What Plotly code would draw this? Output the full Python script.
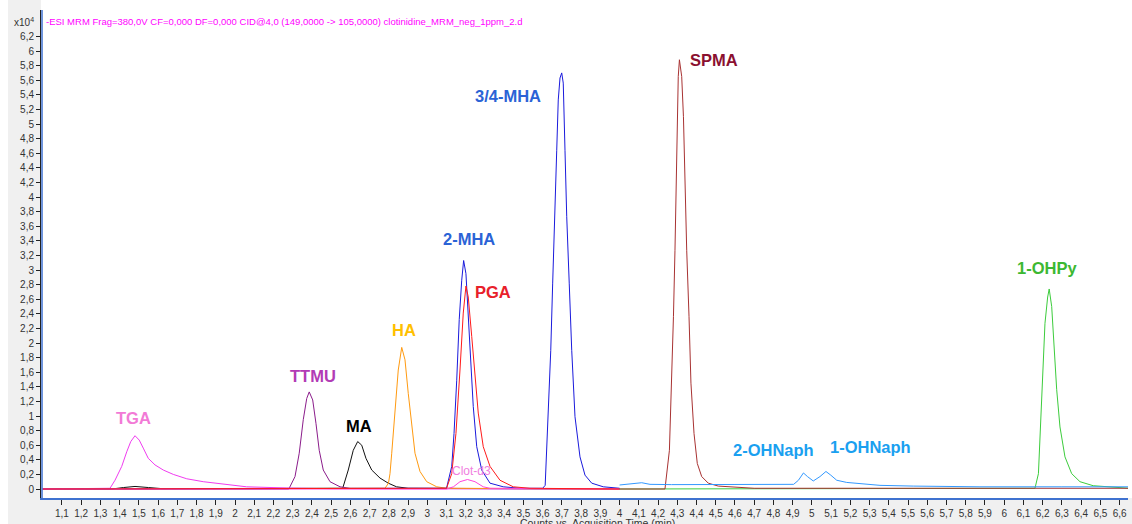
import plotly.graph_objects as go

# ---- chromatogram data (time in min, intensity in counts x10^4) ----
tga_t = [1.00, 1.34, 1.35, 1.376, 1.411, 1.437, 1.458, 1.48, 1.502, 1.523, 1.549, 1.584,
         1.627, 1.679, 1.749, 1.835, 1.939, 2.06, 2.27, 2.5, 4.0]
tga_y = [0, 0, 0.01, 0.12, 0.31, 0.51, 0.65, 0.73, 0.67, 0.56, 0.42, 0.33,
         0.26, 0.20, 0.14, 0.10, 0.064, 0.03, 0.014, 0.005, 0]

ttmu_t = [1.0, 2.28, 2.312, 2.334, 2.355, 2.373, 2.386, 2.404, 2.421, 2.438, 2.459,
          2.494, 2.546, 2.598, 4.0]
ttmu_y = [0, 0, 0.17, 0.49, 0.95, 1.24, 1.33, 1.22, 0.90, 0.53, 0.26,
          0.10, 0.03, 0.01, 0]

ma_t = [1.0, 1.36, 1.42, 1.48, 1.55, 1.62, 2.56, 2.589, 2.615, 2.638, 2.659, 2.681,
        2.711, 2.754, 2.797, 2.84, 2.9, 4.0]
ma_y = [0, 0, 0.02, 0.035, 0.02, 0.005, 0.01, 0.26, 0.53, 0.65, 0.60, 0.42,
        0.26, 0.15, 0.08, 0.03, 0.01, 0]

ha_t = [1.0, 2.78, 2.798, 2.806, 2.815, 2.832, 2.849, 2.867, 2.884, 2.901, 2.919, 2.936,
        2.962, 2.997, 3.049, 3.10, 4.0]
ha_y = [0, 0.01, 0.08, 0.21, 0.49, 1.13, 1.63, 1.94, 1.77, 1.31, 0.85, 0.49,
        0.24, 0.10, 0.03, 0.01, 0]

mha_t = [1.0, 3.10, 3.127, 3.139, 3.153, 3.166, 3.179, 3.189, 3.201, 3.213, 3.226, 3.239,
         3.257, 3.283, 3.326, 3.395, 3.482, 3.60, 3.613, 3.617, 3.629, 3.642, 3.652, 3.664,
         3.673, 3.681, 3.69, 3.699, 3.707, 3.716, 3.725, 3.738, 3.751, 3.768, 3.794, 3.82,
         3.855, 3.915, 3.985, 4.0]
mha_y = [0, 0.01, 0.31, 0.76, 1.49, 2.32, 2.86, 3.13, 2.95, 2.41, 1.77, 1.13,
         0.58, 0.26, 0.08, 0.03, 0.01, 0.01, 0.05, 0.31, 0.99, 1.90, 2.82, 3.73,
         4.64, 5.33, 5.63, 5.70, 5.56, 4.64, 3.73, 2.82, 1.90, 0.99, 0.44, 0.19,
         0.08, 0.03, 0.01, 0.01]

pga_t = [1.0, 3.10, 3.127, 3.149, 3.17, 3.187, 3.201, 3.213, 3.231, 3.248, 3.265, 3.291,
         3.326, 3.378, 3.447, 3.534, 4.0]
pga_y = [0, 0.01, 0.21, 0.76, 1.63, 2.41, 2.78, 2.63, 2.09, 1.54, 1.04, 0.58,
         0.31, 0.12, 0.03, 0.01, 0]

clot_t = [1.0, 3.10, 3.136, 3.17, 3.209, 3.248, 3.291, 3.326, 4.0]
clot_y = [0, 0, 0.03, 0.10, 0.13, 0.10, 0.03, 0.01, 0]

spma_t = [4.0, 4.236, 4.259, 4.271, 4.28, 4.288, 4.294, 4.299, 4.305, 4.311, 4.323, 4.332,
          4.34, 4.349, 4.361, 4.371, 4.387, 4.404, 4.427, 4.461, 4.513, 4.609, 4.7, 6.65]
spma_y = [0, 0, 0.53, 1.45, 2.36, 3.27, 4.19, 5.10, 5.65, 5.88, 5.65, 5.10,
          4.19, 3.27, 2.36, 1.45, 0.76, 0.35, 0.17, 0.08, 0.04, 0.02, 0.01, 0.01]

naph_t = [4.0, 4.05, 4.115, 4.158, 4.27, 4.6, 4.905, 4.93, 4.956, 4.977, 5.007, 5.042,
          5.073, 5.098, 5.129, 5.181, 5.25, 5.354, 5.527, 5.874, 6.3, 6.65]
naph_y = [0.055, 0.065, 0.086, 0.064, 0.06, 0.062, 0.064, 0.12, 0.22, 0.17, 0.11, 0.17,
          0.24, 0.19, 0.12, 0.09, 0.07, 0.05, 0.04, 0.03, 0.03, 0.03]

ohpy_t = [4.0, 6.16, 6.178, 6.19, 6.2, 6.212, 6.226, 6.234, 6.247, 6.259, 6.273, 6.29,
          6.316, 6.351, 6.394, 6.463, 6.567, 6.65]
ohpy_y = [0, 0.01, 0.21, 0.90, 1.58, 2.27, 2.63, 2.74, 2.50, 1.95, 1.36, 0.85,
          0.44, 0.21, 0.10, 0.045, 0.02, 0.01]

# peak labels: text, time, height
label_text = ["TGA", "TTMU", "MA", "HA", "2-MHA", "PGA", "Clot-d3", "3/4-MHA", "SPMA",
              "2-OHNaph", "1-OHNaph", "1-OHPy"]
label_t = [1.474, 2.406, 2.645, 2.879, 3.217, 3.342, 3.232, 3.42, 4.49, 4.80, 5.307, 6.222]
label_y = [0.97, 1.55, 0.86, 2.18, 3.42, 2.70, 0.25, 5.38, 5.88, 0.53, 0.58, 3.03]

x_ticks = [round(1.1 + 0.1 * i, 1) for i in range(56)]
y_ticks = [round(0.2 * i, 1) for i in range(32)]

HEADER = ("-ESI MRM Frag=380,0V CF=0,000 DF=0,000 CID@4,0 (149,0000 -> 105,0000) "
          "clotinidine_MRM_neg_1ppm_2.d")

W, H = 1132, 524
L, R, T, B = 41, 4, 10, 26
PW, PH = W - L - R, H - T - B


def px(xp):
    return (xp - L) / PW


def py(yp):
    return (H - B - yp) / PH


def fmt(v):
    s = f"{v:.1f}"
    if s.endswith(".0"):
        s = s[:-2]
    return s.replace(".", ",")


series = [
    ("MA", ma_t, ma_y, "#111111"),
    ("TTMU", ttmu_t, ttmu_y, "#8b1c8b"),
    ("TGA", tga_t, tga_y, "#f03cf0"),
    ("HA", ha_t, ha_y, "#ff9a10"),
    ("MHA", mha_t, mha_y, "#1a1adc"),
    ("Clot-d3", clot_t, clot_y, "#ff44dd"),
    ("PGA", pga_t, pga_y, "#ff1a1a"),
    ("1-OHPy", ohpy_t, ohpy_y, "#3ccc3c"),
    ("SPMA", spma_t, spma_y, "#a83232"),
    ("OHNaph", naph_t, naph_y, "#3399ff"),
]

fig = go.Figure()
for name, t, y, c in series:
    fig.add_trace(go.Scatter(x=t, y=y, mode="lines", name=name,
                             line=dict(color=c, width=1),
                             showlegend=False, hoverinfo="skip"))

label_colors = ["#f27ad6", "#b23bb5", "#000000", "#ffc000", "#2b63d6", "#e8202a",
                "#f07ee0", "#2b63d6", "#8b1030", "#1aa0f0", "#1aa0f0", "#3cb832"]
annotations = []
for txt, t, y, c in zip(label_text, label_t, label_y, label_colors):
    small = txt == "Clot-d3"
    annotations.append(dict(
        x=t, y=y, xref="x", yref="y", showarrow=False,
        text=txt if small else f"<b>{txt}</b>",
        font=dict(family="Liberation Sans, Arial", size=12 if small else 16.5, color=c),
        xanchor="center", yanchor="middle"))

annotations.append(dict(
    x=px(44), y=py(21.5), xref="paper", yref="paper", showarrow=False,
    text=HEADER, xanchor="left", yanchor="middle",
    font=dict(family="Liberation Sans, Arial", size=9.5, color="#ff00ff")))
annotations.append(dict(
    x=px(36), y=py(21.5), xref="paper", yref="paper", showarrow=False,
    text="x10<sup>4</sup>", xanchor="right", yanchor="middle",
    font=dict(family="Liberation Sans, Arial", size=10, color="#333333")))
annotations.append(dict(
    x=px(597), y=py(523), xref="paper", yref="paper", showarrow=False,
    text="Counts vs. Acquisition Time (min)", xanchor="center", yanchor="middle",
    font=dict(family="Liberation Sans, Arial", size=10.5, color="#333333")))

shapes = [
    # grey panels round the axes
    dict(type="rect", xref="paper", yref="paper", x0=px(8), x1=px(41), y0=py(H), y1=py(0),
         fillcolor="#f0f0f0", line=dict(width=0), layer="below"),
    dict(type="rect", xref="paper", yref="paper", x0=px(8), x1=px(W), y0=py(H), y1=py(H - B),
         fillcolor="#f0f0f0", line=dict(width=0), layer="below"),
    # blue frame edge inside the y axis
    dict(type="line", xref="paper", yref="paper", x0=px(42), x1=px(42), y0=0, y1=1,
         line=dict(color="#3f72d0", width=1.5)),
]

fig.update_layout(
    width=W, height=H,
    margin=dict(l=L, r=R, t=T, b=B, pad=0),
    paper_bgcolor="#ffffff", plot_bgcolor="#ffffff",
    annotations=annotations, shapes=shapes,
    xaxis=dict(range=[2 + (L - 235) / 192.3, 2 + (W - R - 235) / 192.3],
               tickvals=x_ticks, ticktext=[fmt(v) for v in x_ticks],
               showgrid=False, zeroline=False, automargin=False,
               ticks="outside", ticklen=5, tickcolor="#222222", tickwidth=1,
               showline=True, linecolor="#3f72d0", linewidth=2,
               tickfont=dict(family="Liberation Sans, Arial", size=10, color="#333333")),
    yaxis=dict(range=[(489 - (H - B)) / 73.0, (489 - T) / 73.0],
               tickvals=y_ticks, ticktext=[fmt(v) for v in y_ticks],
               showgrid=False, zeroline=False, automargin=False,
               ticks="outside", ticklen=4, tickcolor="#222222", tickwidth=1,
               showline=True, linecolor="#222222", linewidth=1,
               tickfont=dict(family="Liberation Sans, Arial", size=10, color="#333333")),
)

fig.write_html("out.html")
